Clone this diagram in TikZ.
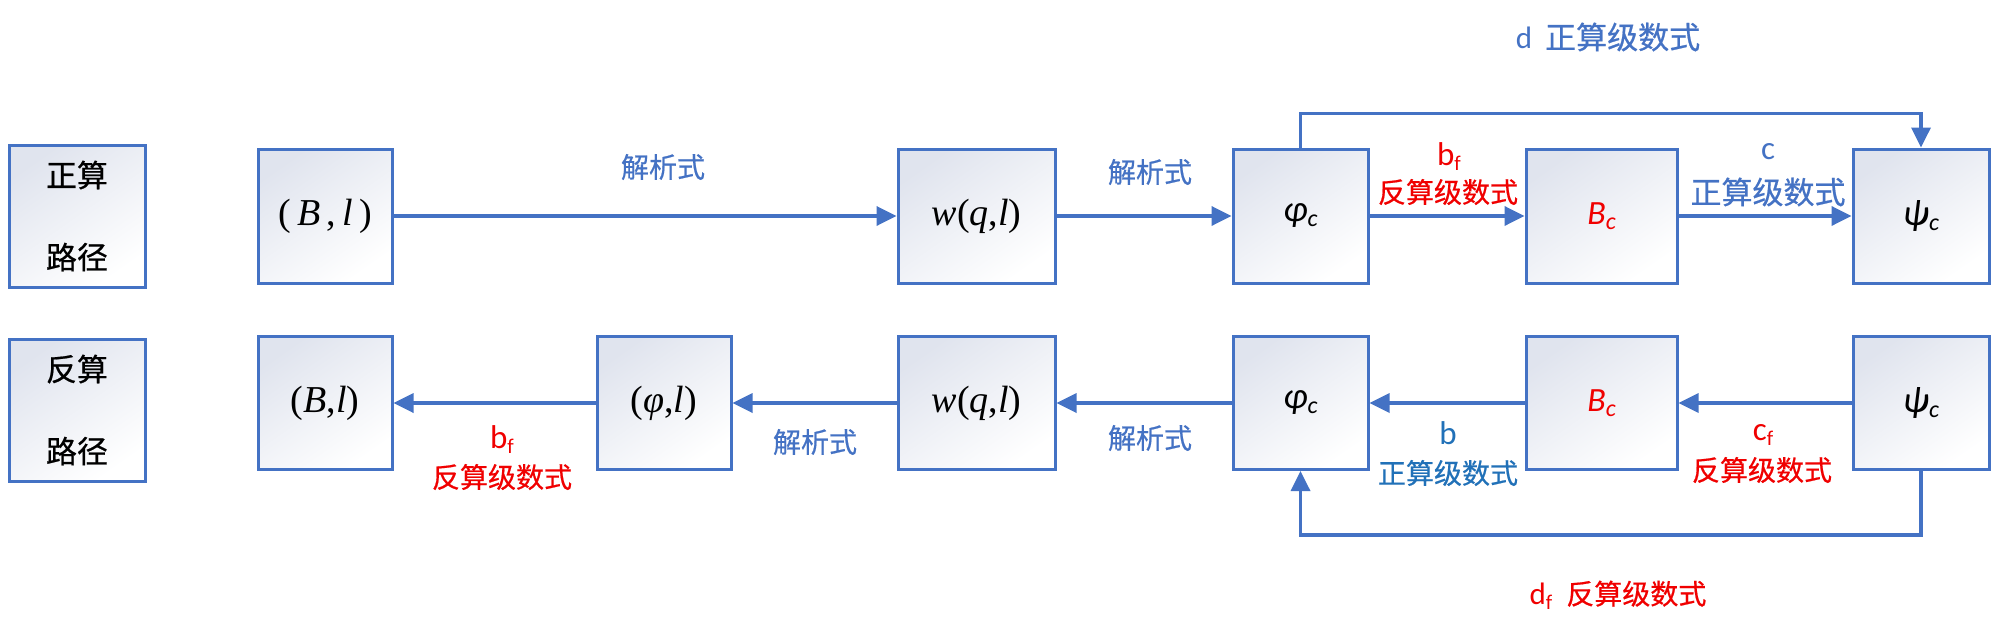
\documentclass[tikz,border=0pt]{standalone}
\usepackage{fontspec}
\setmainfont{Liberation Serif}
\newfontfamily\cjk[FakeBold=0.6]{Noto Sans CJK SC}
\newfontfamily\calib{Carlito}
\usetikzlibrary{arrows.meta}
\definecolor{lineblue}{HTML}{4472C4}
\definecolor{txtblue}{HTML}{4472C4}
\definecolor{bblue}{HTML}{2171B8}
\definecolor{myred}{HTML}{F00000}
\definecolor{boxtop}{HTML}{E0E4EE}
\newcommand\lsub[1]{\raisebox{-5pt}{\fontsize{21}{21}\selectfont #1}}
\newcommand\msub[1]{\raisebox{-5pt}{\fontsize{24}{24}\selectfont #1}}
\begin{document}
\begin{tikzpicture}[x=1pt,y=-1pt,
  box/.style={draw=lineblue, line width=3pt, top color=boxtop, middle color=white, bottom color=white, shading angle=35, inner sep=0pt},
  topbox/.style={box, minimum height=134pt},
  botbox/.style={box, minimum height=133pt},
  arr/.style={draw=lineblue, line width=3.5pt, -{Triangle[length=20pt,width=19pt]}},
  tms/.style={font=\fontsize{38}{38}\selectfont},
  cal/.style={font=\calib\itshape\fontsize{34}{34}\selectfont},
  gcal/.style={font=\calib\itshape\fontsize{37}{37}\selectfont},
  cjkt/.style={font=\cjk\fontsize{28}{28}\selectfont, inner sep=0pt},
  cjkb/.style={font=\cjk\fontsize{31}{31}\selectfont, inner sep=0pt},
  lat/.style={font=\calib\fontsize{33}{33}\selectfont, inner sep=0pt},
  labbox/.style={box, minimum width=136pt, minimum height=142pt, align=center, font=\cjk\fontsize{31}{82}\selectfont}
]
\fill[white] (0,0) rectangle (2000,629);
\useasboundingbox (0,0) rectangle (2000,629);

% path label boxes
\node[labbox] (lab1) at (77,216) {正算\\路径};
\node[labbox] (lab2) at (77,410) {反算\\路径};

% top row
\node[topbox, minimum width=134pt, tms] (B1) at (325,216) {(\,\textit{B}\,,\,\textit{l}\,)};
\node[topbox, minimum width=157pt, tms] (W1) at (976.5,216) {\textit{w}(\textit{q},\textit{l})};
\node[topbox, minimum width=135pt, gcal] (P1) at (1300.5,216) {φ\msub{c}};
\node[topbox, minimum width=151pt, cal, text=myred] (C1) at (1601.5,216) {B\msub{c}};
\node[topbox, minimum width=136pt, gcal] (S1) at (1921,216) {ψ\msub{c}};

% bottom row
\node[botbox, minimum width=134pt, tms] (B2) at (325,403) {(\textit{B},\textit{l})};
\node[botbox, minimum width=134pt, tms] (F2) at (664,403) {(\textit{φ},\textit{l})};
\node[botbox, minimum width=157pt, tms] (W2) at (976.5,403) {\textit{w}(\textit{q},\textit{l})};
\node[botbox, minimum width=135pt, gcal] (P2) at (1300.5,403) {φ\msub{c}};
\node[botbox, minimum width=151pt, cal, text=myred] (C2) at (1601.5,403) {B\msub{c}};
\node[botbox, minimum width=136pt, gcal] (S2) at (1921,403) {ψ\msub{c}};

% top arrows
\draw[arr] (B1.east) -- (W1.west);
\draw[arr] (W1.east) -- (P1.west);
\draw[arr] (P1.east) -- (C1.west);
\draw[arr] (C1.east) -- (S1.west);
\draw[arr] (P1.north) -- ++(0,-34) -| (S1.north);

% bottom arrows
\draw[arr] (S2.west) -- (C2.east);
\draw[arr] (C2.west) -- (P2.east);
\draw[arr] (P2.west) -- (W2.east);
\draw[arr] (W2.west) -- (F2.east);
\draw[arr] (F2.west) -- (B2.east);
\draw[arr] (S2.south) -- ++(0,64) -| (P2.south);

% top labels
\node[cjkt, text=txtblue] (t1) at (663,167) {解析式};
\node[cjkt, text=txtblue] (t2) at (1150,172) {解析式};
\node[lat, text=myred] (t3a) at (1449,157) {b\lsub{f}};
\node[cjkt, text=myred] (t3b) at (1448,192) {反算级数式};
\node[lat, text=txtblue] (t4a) at (1768,152) {c};
\node[cjkb, text=txtblue] (t4b) at (1768,192) {正算级数式};
\node[cjkb, text=txtblue] (t5) at (1608,37) {{\calib d}\hspace{13pt}正算级数式};

% bottom labels
\node[cjkt, text=txtblue] (t6) at (1150,438) {解析式};
\node[cjkt, text=txtblue] (t7) at (815,442) {解析式};
\node[lat, text=myred] (t8a) at (502,440) {b\lsub{f}};
\node[cjkt, text=myred] (t8b) at (502,477) {反算级数式};
\node[lat, text=bblue] (t9a) at (1448,433) {b};
\node[cjkt, text=bblue] (t9b) at (1448,473) {正算级数式};
\node[lat, text=myred] (t10a) at (1763,435) {c\lsub{f}};
\node[cjkt, text=myred] (t10b) at (1762,470) {反算级数式};
\node[cjkt, text=myred] (t11) at (1618,595) {{\calib\fontsize{31}{31}\selectfont d\lsub{f}}\hspace{14pt}反算级数式};
\end{tikzpicture}
\end{document}
